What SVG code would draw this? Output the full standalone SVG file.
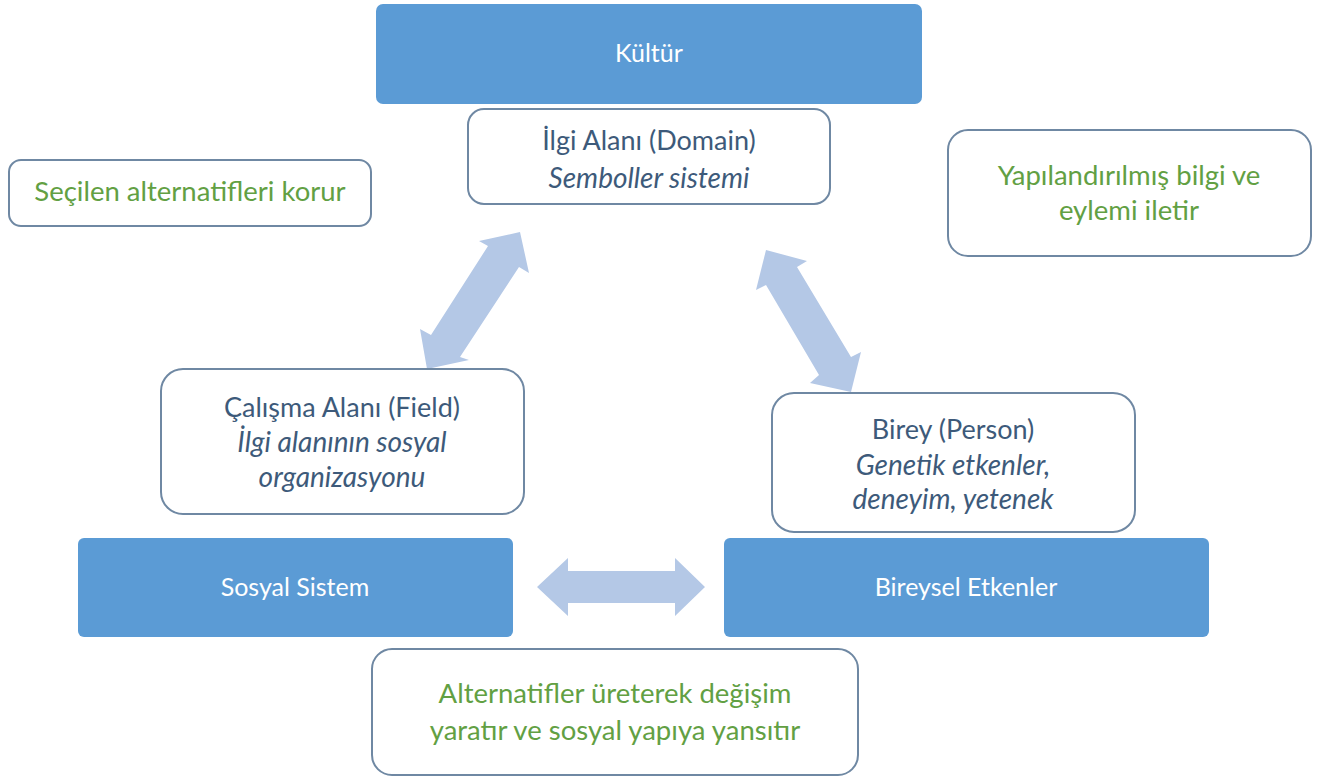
<svg xmlns="http://www.w3.org/2000/svg" width="1324" height="778" viewBox="0 0 1324 778">
  <style>
    .solid { fill: #5b9bd5; }
    .card { fill: #ffffff; stroke: #6f88a3; stroke-width: 2; }
    .t { font-family: Lato, "Liberation Sans", sans-serif; font-size: 25px; text-anchor: middle; }
    .w { fill: #ffffff; }
    .d { fill: #3d5a7a; font-size: 27px; }
    .g { fill: #62a043; font-size: 27.5px; }
    .i { font-style: italic; font-size: 28px; }
    .arrow { fill: #b4c8e6; }
  </style>

  <!-- connectors: wide double-headed block arrows -->
  <g id="connectors">
    <polygon class="arrow" points="520,232 529,273 519,267 460,357 469,360 427,369 420,329 431,335 488,246 479,241"/>
    <polygon class="arrow" points="766,250 807,261 797,267 851,357 861,352 851,392 810,383 819,375 766,285 756,290"/>
    <polygon class="arrow" points="537,587 568,558 568,571 675,571 675,558 705,587 675,616 675,603 568,603 568,616"/>
  </g>

  <g id="kultur">
    <rect class="solid" x="376" y="4" width="546" height="100" rx="7"/>
    <text class="t w" x="649" y="62">Kültür</text>
  </g>

  <g id="domain">
    <rect class="card" x="468" y="109" width="362" height="95" rx="16"/>
    <text class="t d" x="649" y="150">İlgi Alanı (Domain)</text>
    <text class="t d i" x="649" y="188">Semboller sistemi</text>
  </g>

  <g id="korur">
    <rect class="card" x="9" y="160" width="362" height="66" rx="12"/>
    <text class="t g" x="190" y="201">Seçilen alternatifleri korur</text>
  </g>

  <g id="iletir">
    <rect class="card" x="948" y="130" width="363" height="126" rx="20"/>
    <text class="t g" x="1129" y="185">Yapılandırılmış bilgi ve</text>
    <text class="t g" x="1129" y="220">eylemi iletir</text>
  </g>

  <g id="field">
    <rect class="card" x="161" y="369" width="363" height="145" rx="22"/>
    <text class="t d" x="342" y="417">Çalışma Alanı (Field)</text>
    <text class="t d i" x="342" y="452">İlgi alanının sosyal</text>
    <text class="t d i" x="342" y="487">organizasyonu</text>
  </g>

  <g id="person">
    <rect class="card" x="772" y="393" width="363" height="139" rx="22"/>
    <text class="t d" x="953" y="439">Birey (Person)</text>
    <text class="t d i" x="953" y="475">Genetik etkenler,</text>
    <text class="t d i" x="953" y="509">deneyim, yetenek</text>
  </g>

  <g id="sosyal-sistem">
    <rect class="solid" x="78" y="538" width="435" height="99" rx="6"/>
    <text class="t w" x="295" y="596">Sosyal Sistem</text>
  </g>

  <g id="bireysel-etkenler">
    <rect class="solid" x="724" y="538" width="485" height="99" rx="6"/>
    <text class="t w" x="966" y="596">Bireysel Etkenler</text>
  </g>

  <g id="degisim">
    <rect class="card" x="372" y="649" width="486" height="126" rx="20"/>
    <text class="t g" x="615" y="703">Alternatifler üreterek değişim</text>
    <text class="t g" x="615" y="740">yaratır ve sosyal yapıya yansıtır</text>
  </g>
</svg>
